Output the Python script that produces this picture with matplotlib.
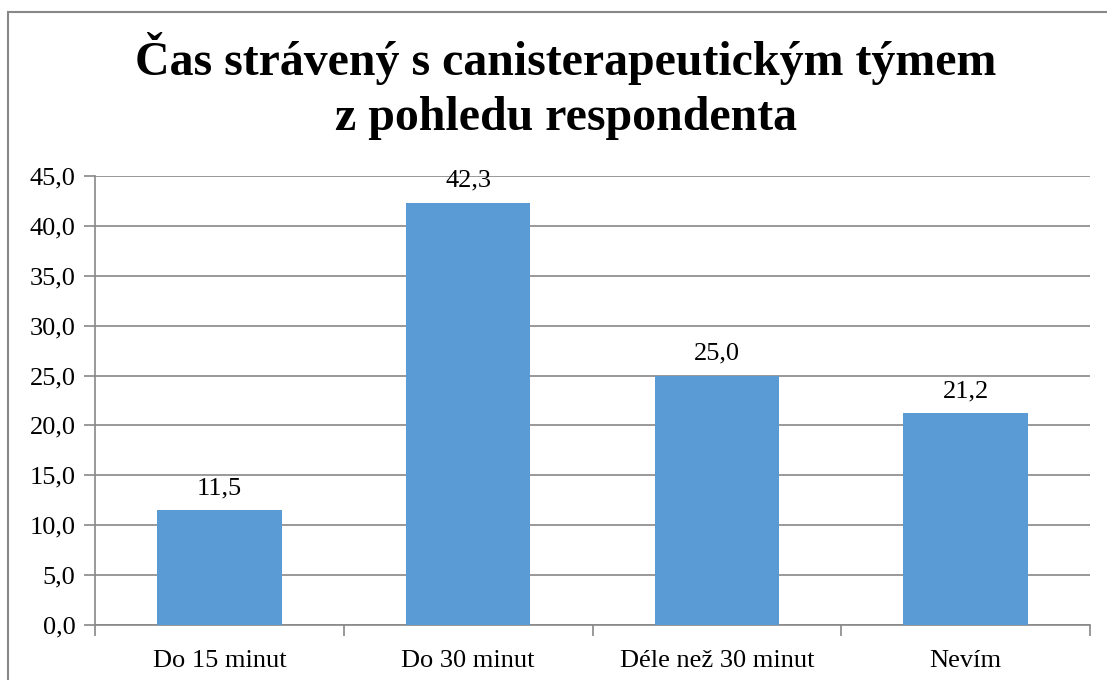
import matplotlib
matplotlib.use("Agg")
import matplotlib.pyplot as plt
from matplotlib.patches import Rectangle

categories = ["Do 15 minut", "Do 30 minut", "Déle než 30 minut", "Nevím"]
values = [11.5, 42.3, 25.0, 21.2]
title = "Čas strávený s canisterapeutickým týmem\nz pohledu respondenta"

BAR = "#5B9BD5"
GRID = "#888888"

plt.rcParams["font.family"] = ["Liberation Serif", "DejaVu Serif"]

fig = plt.figure(figsize=(11.07, 6.8), dpi=100)
fig.patch.set_facecolor("white")

# outer chart frame (runs off the right and bottom edges)
fig.add_artist(Rectangle((8 / 1107, -0.1), 1.2, 1 - 12 / 680 + 0.1,
                         transform=fig.transFigure, fill=False,
                         edgecolor=GRID, linewidth=1.5))

ax = fig.add_axes([95 / 1107, 1 - 625 / 680, (1090 - 95) / 1107, (625 - 176) / 680])

x = range(len(categories))
ax.bar(x, values, width=0.5, color=BAR, zorder=3)
for xi, v in zip(x, values):
    ax.annotate(f"{v:.1f}".replace(".", ","), (xi, v), xytext=(0, 8),
                textcoords="offset points", ha="center", va="bottom",
                fontsize=19, zorder=4)

ax.set_xlim(-0.5, len(categories) - 0.5)
ax.set_ylim(0, 45)
ax.set_yticks(range(0, 46, 5))
ax.set_yticklabels([f"{t},0" for t in range(0, 46, 5)], fontsize=19)
ax.yaxis.grid(True, color=GRID, linewidth=1.2, zorder=0)

ax.set_xticks(list(x))
ax.set_xticklabels(categories, fontsize=19)
ax.tick_params(axis="x", length=0, pad=18)
ax.set_xticks([i - 0.5 for i in range(len(categories) + 1)], minor=True)
ax.tick_params(axis="x", which="minor", length=8, color=GRID, width=1.2)
ax.tick_params(axis="y", length=8, color=GRID, width=1.2, pad=6)

for side in ["top", "right"]:
    ax.spines[side].set_visible(False)
for side in ["left", "bottom"]:
    ax.spines[side].set_color(GRID)
    ax.spines[side].set_linewidth(1.2)

fig.text(566 / 1107, 1 - 86 / 680, title, ha="center", va="center",
         fontsize=34.5, fontweight="bold", linespacing=1.3)

fig.savefig("out.png", dpi=100)
